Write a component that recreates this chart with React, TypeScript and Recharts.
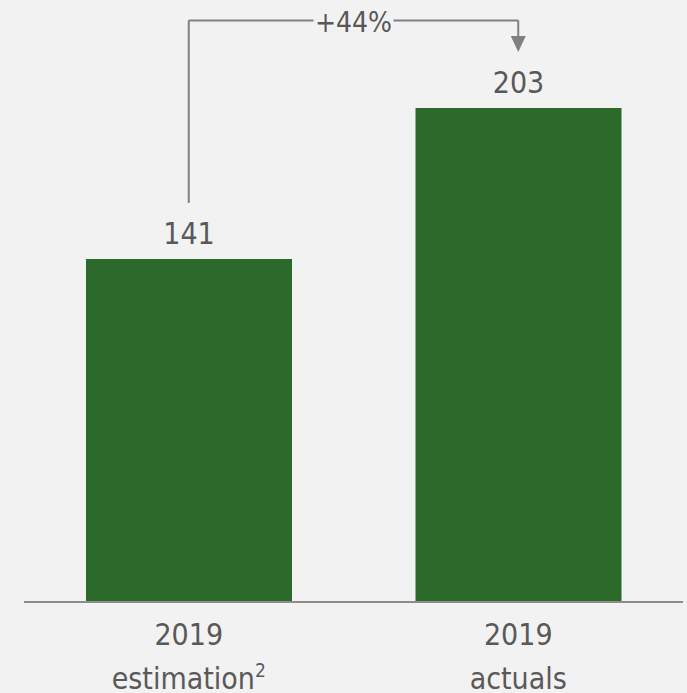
import React from "react";
import {
  BarChart,
  Bar,
  XAxis,
  YAxis,
  LabelList,
  ReferenceLine,
  ReferenceDot,
} from "recharts";

// categories (key, first line, second line, footnote marker)
const categories = ["2019 estimation", "2019 actuals"];
const years = ["2019", "2019"];
const names = ["estimation", "actuals"];
const footnotes = ["2", ""];
const values = [141, 203];

// growth bracket, in value units
const growthLabel = "+44%";
const bracketTop = 239;
const bracketStart = 164;
const arrowBase = 232;
const arrowTip = 226;

const BG = "#f2f2f2";
const GREEN = "#2b6a2b";
const TEXT = "#595959";
const LINE = "#808080";
const FONT = "'DejaVu Sans Condensed', 'DejaVu Sans', sans-serif";

const data = categories.map((c, i) => ({ key: c, value: values[i] }));

function CategoryTick(props: any) {
  const { x, y, index } = props;
  return (
    <g fontFamily={FONT} fontSize={30} fill={TEXT}>
      <text x={x} y={y + 35} textAnchor="middle">
        {years[index]}
      </text>
      <text x={x} y={y + 79} textAnchor="middle">
        {names[index]}
        {footnotes[index] ? (
          <tspan fontSize={19} dy={-12}>
            {footnotes[index]}
          </tspan>
        ) : null}
      </text>
    </g>
  );
}

function GrowthLabel(props: any) {
  const vb = props.viewBox || {};
  const cx = vb.x + (vb.width || 0) / 2;
  const cy = vb.y + (vb.height || 0) / 2;
  return (
    <g>
      <rect x={cx - 40} y={cy - 14} width={80} height={28} fill={BG} />
      <text
        x={cx}
        y={cy + 12}
        textAnchor="middle"
        fontFamily={FONT}
        fontSize={28}
        fill={TEXT}
      >
        {growthLabel}
      </text>
    </g>
  );
}

function ArrowHead(props: any) {
  const { cx, cy } = props;
  return (
    <polygon
      points={`${cx - 7.5},${cy - 16} ${cx + 7.5},${cy - 16} ${cx},${cy}`}
      fill={LINE}
    />
  );
}

export default function App() {
  return (
    <div
      style={{
        position: "fixed",
        left: 0,
        top: 0,
        width: 687,
        height: 693,
        background: BG,
      }}
    >
      <BarChart
        width={687}
        height={693}
        data={data}
        margin={{ top: 18, right: 4, bottom: 31, left: 24 }}
      >
        <XAxis
          dataKey="key"
          height={60}
          axisLine={{ stroke: "#8c8c8c", strokeWidth: 2 }}
          tickLine={false}
          tick={<CategoryTick />}
          interval={0}
        />
        <YAxis hide domain={[0, 240]} />
        <Bar dataKey="value" fill={GREEN} barSize={206} isAnimationActive={false}>
          <LabelList
            dataKey="value"
            position="top"
            offset={15}
            fill={TEXT}
            fontSize={30}
            fontFamily={FONT}
          />
        </Bar>
        <ReferenceLine
          segment={[
            { x: categories[0], y: bracketStart },
            { x: categories[0], y: bracketTop },
          ]}
          stroke={LINE}
          strokeWidth={2}
        />
        <ReferenceLine
          segment={[
            { x: categories[0], y: bracketTop },
            { x: categories[1], y: bracketTop },
          ]}
          stroke={LINE}
          strokeWidth={2}
          label={<GrowthLabel />}
        />
        <ReferenceLine
          segment={[
            { x: categories[1], y: bracketTop },
            { x: categories[1], y: arrowBase },
          ]}
          stroke={LINE}
          strokeWidth={2}
        />
        <ReferenceDot
          x={categories[1]}
          y={arrowTip}
          shape={<ArrowHead />}
          ifOverflow="visible"
        />
      </BarChart>
    </div>
  );
}
